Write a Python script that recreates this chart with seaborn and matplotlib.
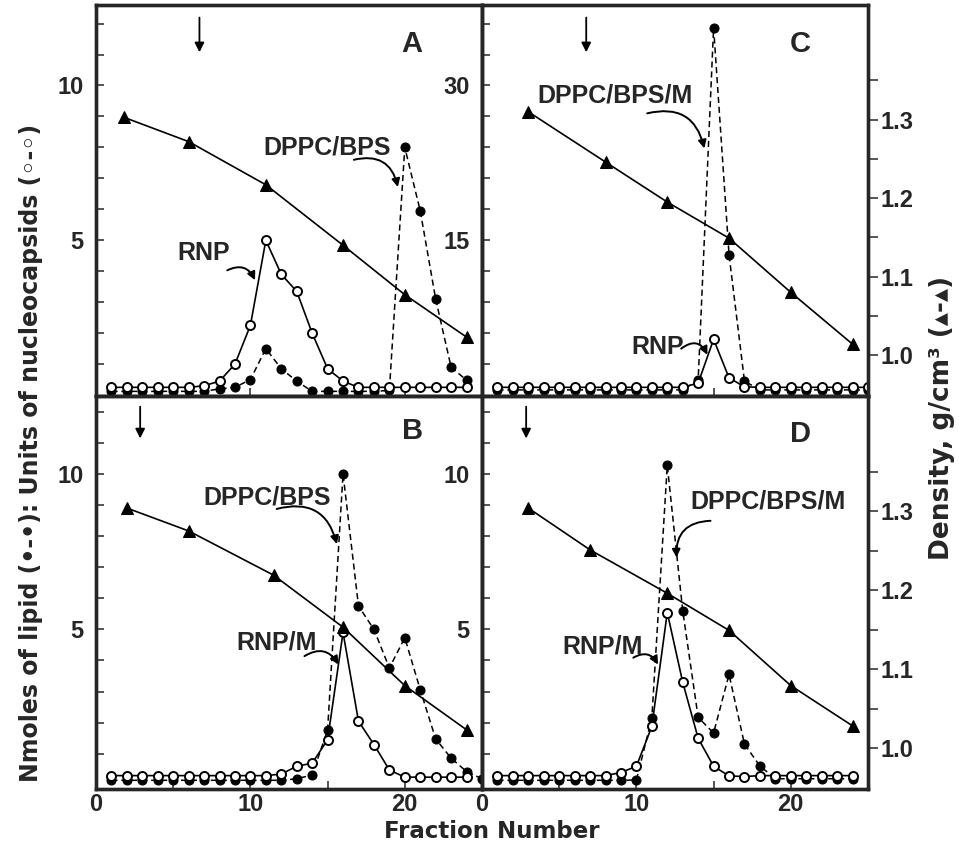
import numpy as np
import matplotlib
matplotlib.use("Agg")
import matplotlib.pyplot as plt
import seaborn as sns

sns.set_style("ticks")
plt.rcParams['font.family'] = ['Liberation Sans', 'DejaVu Sans']
plt.rcParams['font.weight'] = 'bold'

# ---- data ----
frac_A = list(range(1, 25))
rnp_A = [0.25, 0.25, 0.25, 0.25, 0.25, 0.25, 0.3, 0.45, 1.0, 2.25, 5.0, 3.9,
         3.35, 2.0, 0.85, 0.45, 0.25, 0.25, 0.25, 0.25, 0.25, 0.25, 0.25, 0.25]
lipid_A = [0.12, 0.12, 0.12, 0.12, 0.12, 0.12, 0.12, 0.2, 0.25, 0.5, 1.5, 0.85,
           0.45, 0.12, 0.12, 0.12, 0.12, 0.12, 0.15, 8.0, 5.95, 3.1, 0.9, 0.48]
dens_frac_A = [1.8, 6, 11, 16, 20, 24]
dens_A = [1.303, 1.272, 1.217, 1.140, 1.077, 1.023]

frac_B = list(range(1, 26))
rnp_B = [0.3, 0.3, 0.3, 0.3, 0.3, 0.3, 0.3, 0.3, 0.3, 0.3, 0.3, 0.35, 0.6,
         0.7, 1.45, 4.9, 2.05, 1.3, 0.48, 0.25, 0.25, 0.25, 0.25, 0.25]
lipid_B = [0.15, 0.15, 0.15, 0.15, 0.15, 0.15, 0.15, 0.15, 0.15, 0.15, 0.15, 0.15,
           0.2, 0.32, 1.77, 10.0, 5.75, 5.0, 3.76, 4.73, 3.06, 1.48, 0.86, 0.43, 0.2]
dens_frac_B = [2, 6, 11.5, 16, 20, 24]
dens_B = [1.304, 1.275, 1.219, 1.153, 1.079, 1.023]

frac_C = list(range(1, 26))
rnp_C = [0.75] * 13 + [1.16, 5.4, 1.67, 0.8] + [0.75] * 8
lipid_C = [0.5] * 13 + [1.45, 35.6, 13.6, 1.35] + [0.5] * 8
dens_frac_C = [3, 8, 12, 16, 20, 24]
dens_C = [1.310, 1.246, 1.195, 1.149, 1.080, 1.014]

frac_D = list(range(1, 25))
rnp_D = [0.3, 0.3, 0.3, 0.3, 0.3, 0.3, 0.3, 0.3, 0.4, 0.6, 1.88, 5.54, 3.3,
         1.5, 0.6, 0.29, 0.27, 0.3, 0.3, 0.3, 0.3, 0.3, 0.3, 0.3]
lipid_D = [0.15, 0.15, 0.15, 0.15, 0.15, 0.15, 0.15, 0.15, 0.15, 0.16, 2.15, 10.27,
           5.6, 2.17, 1.67, 3.55, 1.31, 0.61, 0.2, 0.2, 0.2, 0.2, 0.2, 0.2]
dens_frac_D = [3, 7, 12, 16, 20, 24]
dens_D = [1.304, 1.251, 1.196, 1.149, 1.079, 1.028]

fig = plt.figure(figsize=(9.59, 8.47), dpi=100)
W, H = 959, 847


def box(x0, y0, x1, y1):
    return [x0 / W, 1 - y1 / H, (x1 - x0) / W, (y1 - y0) / H]


panels = {
    'A': dict(rect=box(96, 5, 482, 396), frac=frac_A, rnp=rnp_A, lipid=lipid_A,
              dx=dens_frac_A, dy=dens_A, ylim=(-0.03, 12.6), scale=1, side='left', bottom=False),
    'C': dict(rect=box(482, 5, 868, 396), frac=frac_C, rnp=rnp_C, lipid=lipid_C,
              dx=dens_frac_C, dy=dens_C, ylim=(-0.09, 37.8), scale=3, side='right', bottom=False),
    'B': dict(rect=box(96, 396, 482, 789), frac=frac_B, rnp=rnp_B, lipid=lipid_B,
              dx=dens_frac_B, dy=dens_B, ylim=(-0.13, 12.5), scale=1, side='left', bottom=True),
    'D': dict(rect=box(482, 396, 868, 789), frac=frac_D, rnp=rnp_D, lipid=lipid_D,
              dx=dens_frac_D, dy=dens_D, ylim=(-0.13, 12.5), scale=1, side='right', bottom=True),
}

# label / annotation placement (data coords of each panel)
notes = {
    'A': [("DPPC/BPS", (15.0, 8.0), (16.7, 7.6), (19.55, 6.72), -0.5),
          ("RNP", (7.0, 4.6), (8.5, 4.03), (10.3, 3.71), -0.5)],
    'C': [("DPPC/BPS/M", (8.6, 29.0), (10.7, 27.3), (14.4, 23.9), -0.5),
          ("RNP", (11.4, 4.7), (12.9, 4.5), (14.6, 3.9), -0.6)],
    'B': [("DPPC/BPS", (11.1, 9.25), (11.7, 8.87), (15.6, 7.74), -0.5),
          ("RNP/M", (11.7, 4.57), (13.5, 4.14), (15.7, 3.87), -0.5)],
    'D': [("DPPC/BPS/M", (18.5, 9.1), (14.8, 8.49), (12.6, 7.31), 0.5),
          ("RNP/M", (7.8, 4.46), (9.8, 4.09), (11.4, 3.87), -0.5)],
}
load_arrow = {'A': 6.7, 'C': 6.75, 'B': 2.86, 'D': 2.86}
letter_pos = {'A': (0.818, 0.90), 'C': (0.824, 0.90), 'B': (0.821, 0.91), 'D': (0.824, 0.903)}

axes = {}
for name, p in panels.items():
    axes[name] = fig.add_axes(p['rect'])

for name, p in panels.items():
    ax = axes[name]
    sns.lineplot(x=p['frac'], y=p['lipid'], ax=ax, color='black', linestyle=(0, (4, 2.5)),
                 linewidth=1.1, marker='o', markersize=6.5, markerfacecolor='black',
                 markeredgecolor='black', zorder=3)
    sns.lineplot(x=p['frac'][:len(p['rnp'])], y=p['rnp'], ax=ax, color='black', linewidth=1.2,
                 marker='o', markersize=6.5, markerfacecolor='white',
                 markeredgecolor='black', markeredgewidth=1.4, zorder=4)
    ax.set_xlim(0, 25)
    ax.set_ylim(*p['ylim'])
    s = p['scale']
    ax.set_yticks([5 * s, 10 * s])
    ax.set_yticks([i * s for i in range(1, 13)], minor=True)
    ax.set_yticklabels([str(5 * s), str(10 * s)])
    ax.tick_params(axis='y', which='both', direction='in', length=6, width=1.1,
                   labelsize=17, pad=9)
    ax.set_xticks([0, 10, 20])
    ax.set_xticks([5, 15, 25], minor=True)
    ax.tick_params(axis='x', which='both', direction='in', length=6, width=1.1,
                   labelsize=17, pad=3, labelbottom=p['bottom'])
    for sp in ax.spines.values():
        sp.set_linewidth(2.4)
    ax.set_xlabel('')
    ax.set_ylabel('')

    tw = ax.twinx()
    sns.lineplot(x=p['dx'], y=p['dy'], ax=tw, color='black', linewidth=1.2, marker='^',
                 markersize=8.5, markerfacecolor='black', markeredgecolor='black')
    tw.set_ylim(0.948, 1.446)
    tw.set_yticks([1.0, 1.1, 1.2, 1.3])
    tw.set_yticks([1.05, 1.15, 1.25, 1.35], minor=True)
    tw.set_ylabel('')
    if p['side'] == 'right':
        tw.tick_params(axis='y', which='both', direction='out', length=7, width=1.1,
                       labelsize=17, pad=2)
    else:
        tw.tick_params(axis='y', which='both', length=0, labelright=False)
    for sp in tw.spines.values():
        sp.set_linewidth(2.4)

    # panel letter
    ax.text(*letter_pos[name], name, transform=ax.transAxes, fontsize=21,
            fontweight='bold', ha='center', va='center')

    # load position arrow
    y0, y1 = (0.975, 0.872) if not p['bottom'] else (0.98, 0.885)
    ax.annotate('', xy=(load_arrow[name], y1), xytext=(load_arrow[name], y0),
                xycoords=('data', 'axes fraction'), textcoords=('data', 'axes fraction'),
                arrowprops=dict(arrowstyle='-|>', color='black', lw=1.3,
                                mutation_scale=14))

    for text, tpos, start, tip, rad in notes[name]:
        ax.text(*tpos, text, fontsize=18, fontweight='bold', ha='center', va='center')
        ax.annotate('', xy=tip, xytext=start,
                    arrowprops=dict(arrowstyle='-|>', color='black', lw=1.4,
                                    mutation_scale=12, shrinkA=0, shrinkB=0,
                                    connectionstyle=f'arc3,rad={rad}'))

label_font = ['DejaVu Sans']
fig.text(0.032, 0.465, 'Nmoles of lipid (\u2022-\u2022): Units of nucleocapsids (\u25e6-\u25e6)',
         rotation=90, ha='center', va='center', fontsize=17, fontweight='bold',
         family=label_font)
fig.text(0.982, 0.507, 'Density, g/cm\u00b3 (\u25b4-\u25b4)', rotation=90,
         ha='center', va='center', fontsize=19, fontweight='bold', family=label_font)
fig.text(0.513, 0.018, 'Fraction Number', ha='center', va='center', fontsize=16.5,
         fontweight='bold', family=label_font)

fig.savefig('out.png', dpi=100)
